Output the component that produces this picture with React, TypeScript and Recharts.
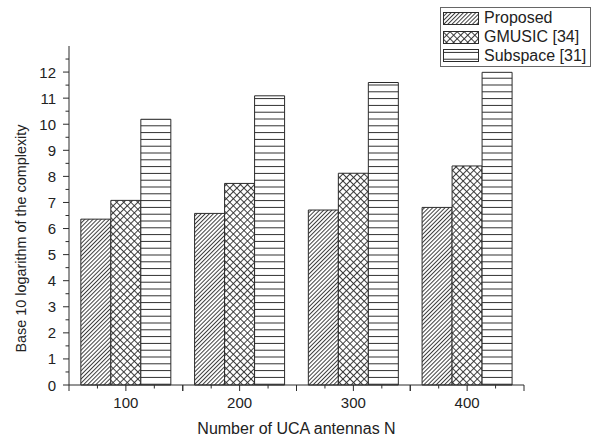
import { BarChart, Bar, XAxis, YAxis, Legend } from 'recharts';

const categories = ['100', '200', '300', '400'];
const proposed = [6.36, 6.58, 6.71, 6.81];
const gmusic = [7.08, 7.73, 8.12, 8.4];
const subspace = [10.19, 11.09, 11.6, 11.99];
const seriesKeys = ['proposed', 'gmusic', 'subspace'];
const seriesNames = ['Proposed', 'GMUSIC [34]', 'Subspace [31]'];
const yMajor = [0, 1, 2, 3, 4, 5, 6, 7, 8, 9, 10, 11, 12];

const data = categories.map((n, i) => ({
  n,
  proposed: proposed[i],
  gmusic: gmusic[i],
  subspace: subspace[i],
}));

const yTicks = yMajor.flatMap((v) => [v, v + 0.5]);

const W = 601;
const H = 440;
const margin = { top: 46, right: 77, bottom: 0, left: 0 };
const yAxisW = 69;
const band = (W - margin.left - margin.right - yAxisW) / categories.length;
const ink = '#2b2b2b';
const font = 'Arial, "Liberation Sans", sans-serif';

const Patterns = ({ p }: { p: string }) => (
  <defs>
    <pattern id={p + 'hatch'} width="2.9" height="2.9" patternUnits="userSpaceOnUse" patternTransform="rotate(45)">
      <rect width="2.9" height="2.9" fill="#fff" />
      <line x1="0.5" y1="0" x2="0.5" y2="2.9" stroke={ink} strokeWidth="0.9" />
    </pattern>
    <pattern id={p + 'cross'} width="5" height="5" patternUnits="userSpaceOnUse" patternTransform="rotate(45)">
      <rect width="5" height="5" fill="#fff" />
      <line x1="0.5" y1="0" x2="0.5" y2="5" stroke={ink} strokeWidth="0.9" />
      <line x1="0" y1="0.5" x2="5" y2="0.5" stroke={ink} strokeWidth="0.9" />
    </pattern>
    <pattern id={p + 'horiz'} width="10" height="6.8" patternUnits="userSpaceOnUse">
      <rect width="10" height="6.8" fill="#fff" />
      <line x1="0" y1="3.4" x2="10" y2="3.4" stroke={ink} strokeWidth="1" />
    </pattern>
  </defs>
);

const fills: Record<string, string> = { proposed: 'hatch', gmusic: 'cross', subspace: 'horiz' };

const YTick = (props: any) => {
  const { x, y, payload } = props;
  const major = Number.isInteger(payload.value);
  return (
    <g>
      <line x1={x - (major ? 6 : 3.5)} y1={y} x2={x} y2={y} stroke={ink} strokeWidth={1} />
      {major && (
        <text x={x - 13} y={y} dy={5.5} textAnchor="end" fontSize={15} fill="#222" fontFamily={font}>
          {payload.value}
        </text>
      )}
    </g>
  );
};

const XTick = (props: any) => {
  const { x, y, payload } = props;
  const marks = [-0.5, -0.25, 0, 0.25, 0.5];
  return (
    <g>
      {marks.map((m) => (
        <line
          key={m}
          x1={x + m * band}
          y1={y}
          x2={x + m * band}
          y2={y + (m === 0.25 || m === -0.25 ? 3.5 : 6)}
          stroke={ink}
          strokeWidth={1}
        />
      ))}
      <text x={x} y={y} dy={23} textAnchor="middle" fontSize={15} fill="#222" fontFamily={font}>
        {payload.value}
      </text>
    </g>
  );
};

const LegendBox = (props: any) => {
  const payload = [...(props.payload || [])].sort(
    (a: any, b: any) => seriesKeys.indexOf(a.dataKey) - seriesKeys.indexOf(b.dataKey)
  );
  return (
    <div
      style={{
        border: '1px solid #666',
        width: 147,
        padding: '1px 0 1px 2px',
        background: '#fff',
        fontFamily: font,
        fontSize: 16,
        color: '#222',
      }}
    >
      <svg width={0} height={0} style={{ position: 'absolute' }}>
        <Patterns p="lg" />
      </svg>
      {payload.map((e: any) => (
        <div key={e.dataKey} style={{ display: 'flex', alignItems: 'center', height: 18.7 }}>
          <svg width={36} height={13} style={{ marginRight: 5 }}>
            <rect x={0.5} y={0.5} width={35} height={12} fill={`url(#lg${fills[e.dataKey]})`} stroke={ink} />
          </svg>
          <span>{e.value}</span>
        </div>
      ))}
    </div>
  );
};

const YTitle = (p: any) => {
  const vb = p.viewBox;
  const cx = 21;
  const cy = vb.y + vb.height / 2 + 23;
  return (
    <text
      x={cx}
      y={cy}
      transform={`rotate(-90, ${cx}, ${cy})`}
      textAnchor="middle"
      dominantBaseline="central"
      fontSize={14.4}
      fill="#222"
      fontFamily={font}
    >
      Base 10 logarithm of the complexity
    </text>
  );
};

const App = () => (
  <div style={{ position: 'absolute', left: 0, top: 0, background: '#fff' }}>
    <BarChart width={W} height={H} data={data} margin={margin} barGap={0} barCategoryGap="10.4%">
      <Patterns p="ch" />
      <XAxis
        dataKey="n"
        height={55}
        tickSize={0}
        tickMargin={0}
        stroke={ink}
        tick={<XTick />}
        interval={0}
        label={{
          value: 'Number of UCA antennas N',
          position: 'insideBottom',
          offset: 6,
          fontSize: 16,
          fill: '#222',
          fontFamily: font,
        }}
      />
      <YAxis
        width={yAxisW}
        domain={[0, 13]}
        ticks={yTicks}
        interval={0}
        tickSize={0}
        tickMargin={0}
        stroke={ink}
        tick={<YTick />}
        label={YTitle}
      />
      <Legend
        layout="vertical"
        align="center"
        verticalAlign="middle"
        wrapperStyle={{ left: 440, top: 7, width: 150 }}
        content={<LegendBox />}
      />
      <Bar dataKey="proposed" name={seriesNames[0]} fill="url(#chhatch)" stroke={ink} strokeWidth={1} isAnimationActive={false} />
      <Bar dataKey="gmusic" name={seriesNames[1]} fill="url(#chcross)" stroke={ink} strokeWidth={1} isAnimationActive={false} />
      <Bar dataKey="subspace" name={seriesNames[2]} fill="url(#chhoriz)" stroke={ink} strokeWidth={1} isAnimationActive={false} />
    </BarChart>
  </div>
);

export default App;
